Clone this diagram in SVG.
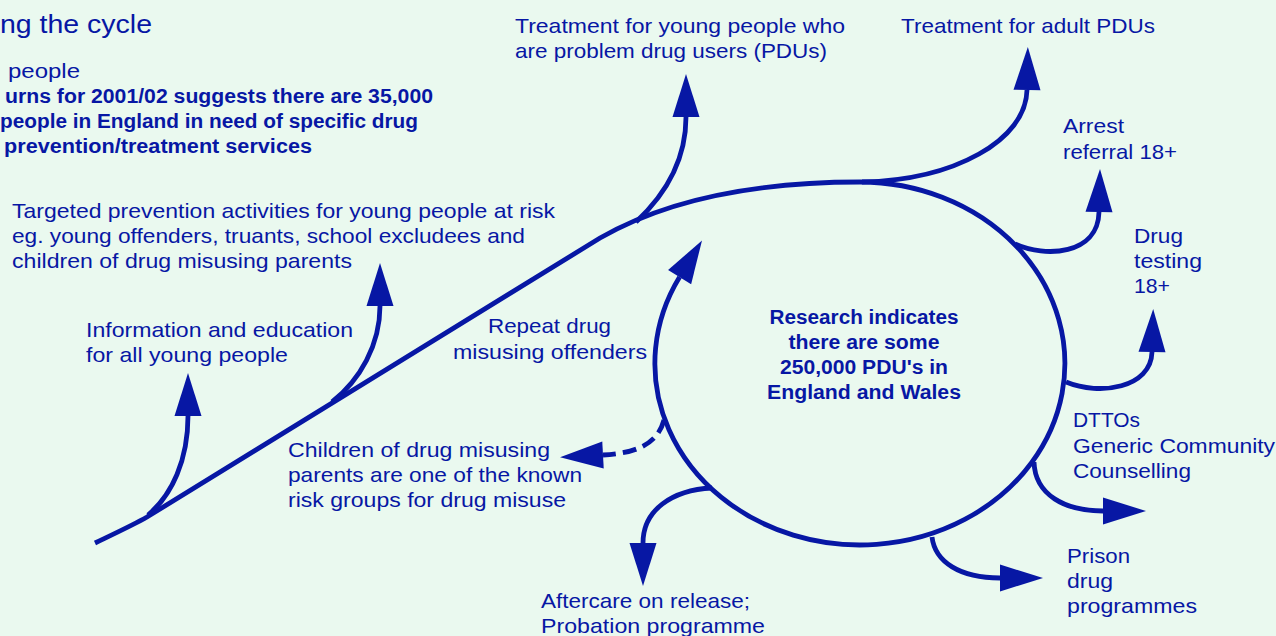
<svg xmlns="http://www.w3.org/2000/svg" width="1276" height="636" viewBox="0 0 1276 636">
<style>
  text { font-family: "Liberation Sans", Arial, sans-serif; fill: #0717A4; }
  .r { font-size: 21px; }
  .b { font-size: 20px; font-weight: bold; }
  .t { font-size: 25px; }
  .c { text-anchor: middle; }
  .ln { fill: none; stroke: #0717A4; stroke-width: 4.8; }
  .arr { marker-end: url(#ah); }
  .dash { stroke-dasharray: 14 7; }
</style>
<defs>
  <marker id="ah" markerUnits="userSpaceOnUse" viewBox="0 0 43 27" markerWidth="43" markerHeight="27" refX="0" refY="13.5" orient="auto" overflow="visible">
    <path d="M0,0 L43,13.5 L0,27 Z" fill="#0717A4"/>
  </marker>
</defs>
<rect width="1276" height="636" fill="#EAF9EF"/>

<g id="connectors">
  <path id="main-cycle" class="ln arr" d="M95,543 C120,531 135,524 147,517 L600,238 C680,192 780,182 860,182 A205,181.5 0 1 1 679.6,277.1"/>
  <path class="ln arr" d="M148,515 C172,495 188,460 188,416"/>
  <path class="ln arr" d="M332,402 C360,380 380,345 380,306"/>
  <path class="ln arr" d="M636,222 C665,195 686,160 686,117"/>
  <path class="ln arr" d="M862,182 C955,180 1026,140 1027,90"/>
  <path class="ln arr" d="M1015,244 C1045,258 1098,255 1099,212"/>
  <path class="ln arr" d="M1066,382 C1100,396 1151,388 1152,352"/>
  <path class="ln arr" d="M1034,462 C1035,495 1065,511 1103,511"/>
  <path class="ln arr" d="M932,537 C935,562 960,578 1000,578"/>
  <path class="ln arr" d="M712,488 C672,490 643,510 643,543"/>
  <path class="ln arr dash" d="M664,420 C658,442 640,453 603,455"/>
</g>

<g id="header">
  <text class="t" x="0" y="33" textLength="152" lengthAdjust="spacingAndGlyphs">ng the cycle</text>
  <text class="r" x="8" y="78" textLength="72" lengthAdjust="spacingAndGlyphs">people</text>
  <text class="b" x="5" y="103" textLength="428" lengthAdjust="spacingAndGlyphs">urns for 2001/02 suggests there are 35,000</text>
  <text class="b" x="0" y="128" textLength="418" lengthAdjust="spacingAndGlyphs">people in England in need of specific drug</text>
  <text class="b" x="4" y="153" textLength="308" lengthAdjust="spacingAndGlyphs">prevention/treatment services</text>
</g>

<g id="targeted-prevention">
  <text class="r" x="12" y="218" textLength="543" lengthAdjust="spacingAndGlyphs">Targeted prevention activities for young people at risk</text>
  <text class="r" x="12" y="243" textLength="513" lengthAdjust="spacingAndGlyphs">eg. young offenders, truants, school excludees and</text>
  <text class="r" x="12" y="268" textLength="340" lengthAdjust="spacingAndGlyphs">children of drug misusing parents</text>
</g>

<g id="information-education">
  <text class="r" x="86" y="337" textLength="267" lengthAdjust="spacingAndGlyphs">Information and education</text>
  <text class="r" x="86" y="362" textLength="202" lengthAdjust="spacingAndGlyphs">for all young people</text>
</g>

<g id="treatment-young">
  <text class="r" x="515" y="33" textLength="330" lengthAdjust="spacingAndGlyphs">Treatment for young people who</text>
  <text class="r" x="515" y="58" textLength="312" lengthAdjust="spacingAndGlyphs">are problem drug users (PDUs)</text>
</g>

<g id="treatment-adult">
  <text class="r" x="901" y="33" textLength="254" lengthAdjust="spacingAndGlyphs">Treatment for adult PDUs</text>
</g>

<g id="repeat-offenders">
  <text class="r" x="488" y="333" textLength="123" lengthAdjust="spacingAndGlyphs">Repeat drug</text>
  <text class="r" x="453" y="359" textLength="194" lengthAdjust="spacingAndGlyphs">misusing offenders</text>
</g>

<g id="arrest-referral">
  <text class="r" x="1063" y="133" textLength="61" lengthAdjust="spacingAndGlyphs">Arrest</text>
  <text class="r" x="1063" y="159" textLength="114" lengthAdjust="spacingAndGlyphs">referral 18+</text>
</g>

<g id="drug-testing">
  <text class="r" x="1134" y="243" textLength="49" lengthAdjust="spacingAndGlyphs">Drug</text>
  <text class="r" x="1134" y="268" textLength="68" lengthAdjust="spacingAndGlyphs">testing</text>
  <text class="r" x="1134" y="293" textLength="36" lengthAdjust="spacingAndGlyphs">18+</text>
</g>

<g id="dttos">
  <text class="r" x="1073" y="427" textLength="67" lengthAdjust="spacingAndGlyphs">DTTOs</text>
  <text class="r" x="1073" y="453" textLength="202" lengthAdjust="spacingAndGlyphs">Generic Community</text>
  <text class="r" x="1073" y="478" textLength="118" lengthAdjust="spacingAndGlyphs">Counselling</text>
</g>

<g id="prison">
  <text class="r" x="1067" y="563" textLength="63" lengthAdjust="spacingAndGlyphs">Prison</text>
  <text class="r" x="1067" y="588" textLength="46" lengthAdjust="spacingAndGlyphs">drug</text>
  <text class="r" x="1067" y="613" textLength="130" lengthAdjust="spacingAndGlyphs">programmes</text>
</g>

<g id="aftercare">
  <text class="r" x="541" y="608" textLength="209" lengthAdjust="spacingAndGlyphs">Aftercare on release;</text>
  <text class="r" x="541" y="633" textLength="224" lengthAdjust="spacingAndGlyphs">Probation programme</text>
</g>

<g id="children-risk">
  <text class="r" x="288" y="457" textLength="262" lengthAdjust="spacingAndGlyphs">Children of drug misusing</text>
  <text class="r" x="288" y="482" textLength="294" lengthAdjust="spacingAndGlyphs">parents are one of the known</text>
  <text class="r" x="288" y="507" textLength="278" lengthAdjust="spacingAndGlyphs">risk groups for drug misuse</text>
</g>

<g id="pdu-circle-text">
  <text class="b c" x="864" y="324" textLength="189" lengthAdjust="spacingAndGlyphs">Research indicates</text>
  <text class="b c" x="864" y="349" textLength="151" lengthAdjust="spacingAndGlyphs">there are some</text>
  <text class="b c" x="864" y="374" textLength="168" lengthAdjust="spacingAndGlyphs">250,000 PDU's in</text>
  <text class="b c" x="864" y="399" textLength="194" lengthAdjust="spacingAndGlyphs">England and Wales</text>
</g>
</svg>
